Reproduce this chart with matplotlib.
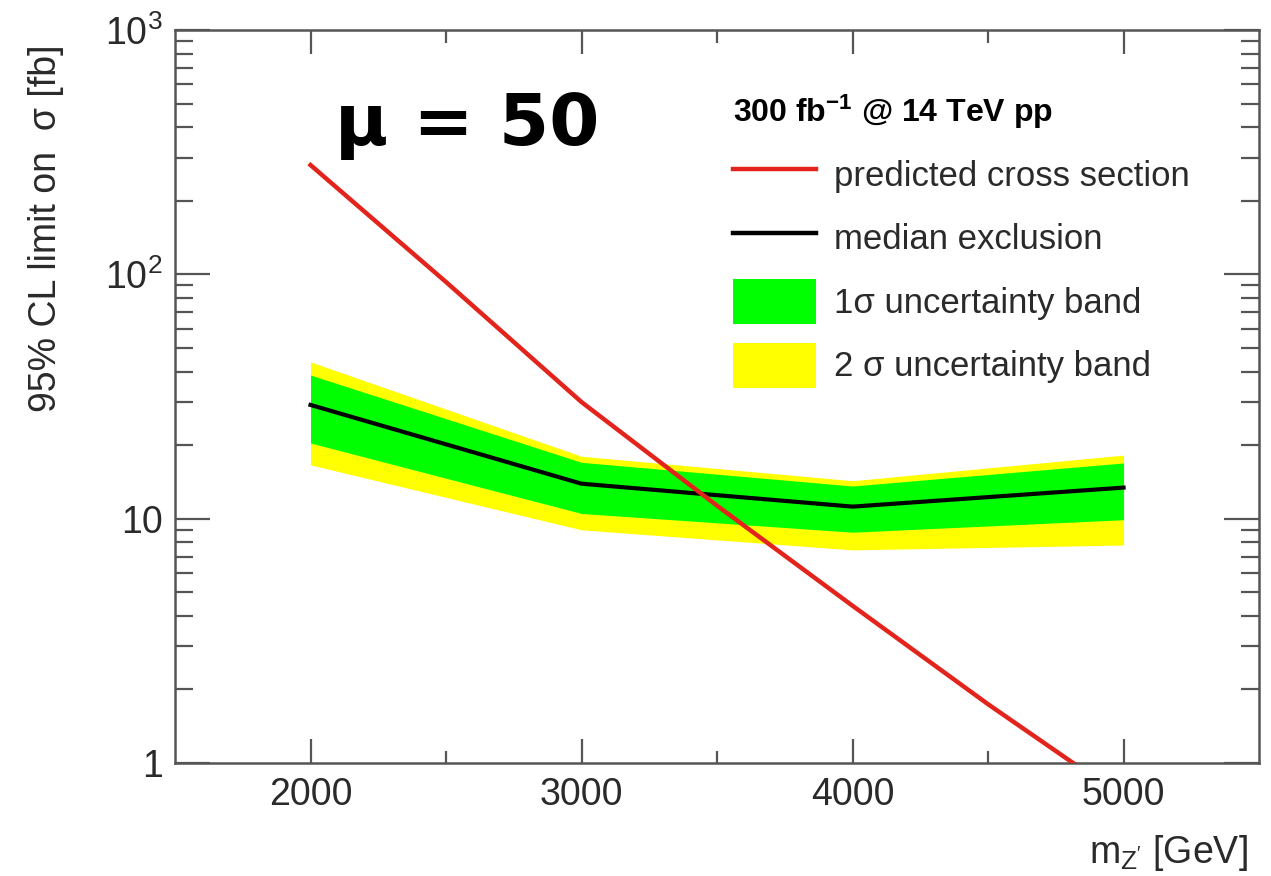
import matplotlib
matplotlib.use("Agg")
import matplotlib.pyplot as plt
from matplotlib.lines import Line2D
from matplotlib.patches import Patch
from matplotlib.ticker import FixedLocator, LogLocator, NullFormatter

plt.rcParams['font.family'] = ['Liberation Sans', 'DejaVu Sans']
plt.rcParams['mathtext.fontset'] = 'custom'
plt.rcParams['mathtext.rm'] = 'Liberation Sans'
plt.rcParams['mathtext.it'] = 'Liberation Sans'
plt.rcParams['mathtext.bf'] = 'Liberation Sans:bold'

# Z' mass points [GeV]
mass = [2000, 3000, 4000, 5000]
median = [29.2, 13.9, 11.2, 13.4]
band1_lo = [20.4, 10.5, 8.8, 9.9]
band1_hi = [38.7, 17.0, 13.6, 16.9]
band2_lo = [16.6, 9.0, 7.45, 7.8]
band2_hi = [43.8, 18.0, 14.3, 18.2]

# predicted cross section [fb]
xs_mass = [2000, 2500, 3000, 3500, 4000, 4500, 5000]
xs_pred = [280, 93, 30, 11.3, 4.4, 1.74, 0.72]

ytick_vals = [1, 10, 100, 1000]
ytick_labels = ['1', '10', r'$10^{2}$', r'$10^{3}$']
xtick_vals = [2000, 3000, 4000, 5000]

fig = plt.figure(figsize=(12.71, 8.76), dpi=100)
ax = fig.add_axes([0.1377, 0.129, 0.8529, 0.8368])

ax.fill_between(mass, band2_lo, band2_hi, color='#ffff00', lw=0, zorder=1)
ax.fill_between(mass, band1_lo, band1_hi, color='#00ff00', lw=0, zorder=2)
ax.plot(mass, median, color='black', lw=3.0, zorder=3)
ax.plot(xs_mass, xs_pred, color='#e3241c', lw=3.2, zorder=4)

ax.set_yscale('log')
ax.set_xlim(1500, 5500)
ax.set_ylim(1, 1000)

grey = '#555555'
for s in ax.spines.values():
    s.set_color(grey)
    s.set_linewidth(1.8)

ax.xaxis.set_major_locator(FixedLocator(xtick_vals))
ax.xaxis.set_minor_locator(FixedLocator([2500, 3500, 4500]))
ax.set_xticklabels([str(v) for v in xtick_vals])
ax.yaxis.set_major_locator(FixedLocator(ytick_vals))
ax.set_yticklabels(ytick_labels)
ax.yaxis.set_minor_locator(LogLocator(base=10, subs=range(2, 10)))
ax.yaxis.set_minor_formatter(NullFormatter())

ax.tick_params(axis='both', which='both', direction='in', top=True, right=True,
               color=grey, width=1.6, labelcolor='#2a2a2a', labelsize=27)
ax.tick_params(axis='x', which='major', length=17, pad=10)
ax.tick_params(axis='x', which='minor', length=9)
ax.tick_params(axis='y', which='major', length=25, pad=9)
ax.tick_params(axis='y', which='minor', length=13)

ax.set_ylabel('95% CL limit on  σ [fb]', fontsize=27, color='#2a2a2a')
ax.yaxis.set_label_coords(-0.102, 0.73)
ax.set_xlabel(r"m$_{\mathrm{Z'}}$ [GeV]", fontsize=27, color='#2a2a2a')
ax.xaxis.set_label_coords(0.99, -0.095)
ax.xaxis.label.set_horizontalalignment('right')

handles = [
    Line2D([], [], color='#e3241c', lw=3.2),
    Line2D([], [], color='black', lw=3.2),
    Patch(facecolor='#00ff00', edgecolor='none'),
    Patch(facecolor='#ffff00', edgecolor='none'),
]
labels = ['predicted cross section', 'median exclusion',
          '1σ uncertainty band', '2 σ uncertainty band']
leg = ax.legend(handles, labels, loc='upper left', bbox_to_anchor=(0.5148, 0.914),
                frameon=False, fontsize=25, borderaxespad=0, borderpad=0,
                handlelength=2.4, handleheight=1.62, handletextpad=0.5,
                labelspacing=0.53, alignment='left',
                title=r"300 fb$^{\mathbf{-1}}$ @ 14 TeV pp",
                title_fontproperties={'size': 23, 'weight': 'bold'})
leg._legend_box.sep = 15
for t in leg.get_texts():
    t.set_color('#2a2a2a')

fig.text(335 / 1271, 1 - 145 / 876, 'μ = 50', fontsize=52, fontweight='bold',
         family='DejaVu Sans', color='black', ha='left', va='baseline')

fig.savefig('out.png', dpi=100, facecolor='white')
